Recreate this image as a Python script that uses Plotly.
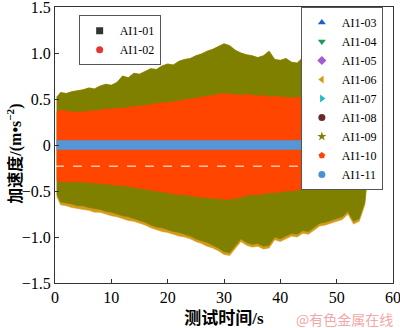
import plotly.graph_objects as go

# time axis for envelopes (s)
t = [0.3, 1, 2, 3, 4, 5, 6, 7, 8, 9, 10, 11, 12, 13, 14, 15, 16, 17, 18, 19, 20,
     21, 22, 23, 24, 25, 26, 27, 28, 29, 30, 31, 32, 33, 34, 35, 36, 37, 38, 39, 40,
     41, 42, 43, 44, 45, 46, 47, 48, 49, 50, 51, 52, 53, 54, 55, 55.5]

# AI1-09 (olive) envelope
olive_upper = [0.52, 0.57, 0.56, 0.58, 0.59, 0.60, 0.62, 0.61, 0.64, 0.66, 0.65, 0.68, 0.75, 0.73,
               0.78, 0.77, 0.80, 0.83, 0.82, 0.86, 0.88, 0.87, 0.91, 0.93, 0.94, 0.97, 0.99, 1.02,
               1.04, 1.07, 1.10, 1.08, 1.03, 1.00, 0.98, 0.97, 0.95, 0.97, 1.02, 0.93, 0.92, 0.94,
               0.90, 0.89, 0.95, 0.90, 0.88, 0.85, 0.80, 0.79, 0.76, 0.75, 0.77, 0.74, 0.76, 0.72, 0.30]
olive_lower = [-0.53, -0.62, -0.63, -0.64, -0.66, -0.66, -0.68, -0.69, -0.70, -0.72, -0.73, -0.75,
               -0.77, -0.78, -0.80, -0.82, -0.84, -0.87, -0.89, -0.90, -0.92, -0.94, -0.95, -0.97,
               -0.99, -1.02, -1.04, -1.06, -1.09, -1.12, -1.16, -1.17, -1.10, -1.02, -1.06, -1.08,
               -1.07, -1.10, -1.09, -1.00, -1.02, -0.99, -0.96, -0.97, -0.93, -0.94, -0.90, -0.85,
               -0.84, -0.82, -0.80, -0.78, -0.72, -0.83, -0.80, -0.62, -0.30]
# AI1-06 (goldenrod) lower envelope
gold_lower = [-0.56, -0.65, -0.66, -0.68, -0.69, -0.70, -0.71, -0.73, -0.73, -0.75, -0.77, -0.78,
              -0.80, -0.82, -0.83, -0.85, -0.87, -0.90, -0.92, -0.94, -0.95, -0.97, -0.99, -1.00,
              -1.02, -1.05, -1.07, -1.10, -1.12, -1.15, -1.19, -1.20, -1.13, -1.05, -1.09, -1.11,
              -1.10, -1.13, -1.12, -1.03, -1.05, -1.02, -0.99, -1.00, -0.96, -0.97, -0.93, -0.88,
              -0.87, -0.85, -0.83, -0.81, -0.75, -0.86, -0.83, -0.65, -0.32]
# AI1-10 (orange-red) envelope
orange_upper = [0.36, 0.38, 0.37, 0.36, 0.36, 0.36, 0.37, 0.37, 0.38, 0.39, 0.39, 0.40, 0.40, 0.41,
                0.42, 0.42, 0.43, 0.44, 0.45, 0.46, 0.46, 0.47, 0.48, 0.49, 0.50, 0.51, 0.52, 0.53,
                0.54, 0.55, 0.56, 0.55, 0.55, 0.54, 0.55, 0.54, 0.53, 0.54, 0.52, 0.53, 0.52, 0.52,
                0.51, 0.52, 0.50, 0.51, 0.49, 0.49, 0.50, 0.49, 0.50, 0.50, 0.49, 0.48, 0.47, 0.42, 0.20]
orange_lower = [-0.38, -0.40, -0.40, -0.40, -0.40, -0.40, -0.41, -0.41, -0.42, -0.42, -0.43, -0.44,
                -0.44, -0.45, -0.46, -0.47, -0.48, -0.49, -0.50, -0.51, -0.52, -0.53, -0.54, -0.54,
                -0.55, -0.56, -0.57, -0.57, -0.58, -0.58, -0.59, -0.59, -0.58, -0.57, -0.55, -0.54,
                -0.54, -0.53, -0.52, -0.52, -0.51, -0.50, -0.50, -0.49, -0.48, -0.47, -0.47, -0.46,
                -0.46, -0.45, -0.45, -0.44, -0.44, -0.43, -0.41, -0.38, -0.20]
# AI1-11 (blue) band half width
blue_half = 0.05
threshold = -0.23

x_ticks = [0, 10, 20, 30, 40, 50, 60]
y_ticks = [-1.5, -1.0, -0.5, 0, 0.5, 1.0, 1.5]
y_tick_text = ["\u22121.5", "\u22121.0", "\u22120.5", "0", "0.5", "1.0", "1.5"]

legend1 = ["AI1-01", "AI1-02"]
legend1_sym = ["square", "circle"]
legend1_col = ["#333333", "#E8352F"]
legend2 = ["AI1-03", "AI1-04", "AI1-05", "AI1-06", "AI1-07", "AI1-08", "AI1-09", "AI1-10", "AI1-11"]
legend2_sym = ["triangle-up", "triangle-down", "diamond", "triangle-left", "triangle-right",
               "circle", "star", "pentagon", "circle"]
legend2_col = ["#1F5FC8", "#1E9B5A", "#A25BD6", "#D49A1A", "#1FB8C8", "#6B2B2B", "#808000",
               "#FF4500", "#4A90D9"]

GOLD = "#D49A1A"
OLIVE = "#808000"
ORANGE = "#FF4500"
BLUE = "#5596D8"

fig = go.Figure()

def band(upper, lower, color):
    fig.add_trace(go.Scatter(x=t + t[::-1], y=upper + lower[::-1], fill="toself",
                             mode="lines", line=dict(width=0.6, color=color),
                             fillcolor=color, showlegend=False, hoverinfo="skip"))

band(olive_upper, gold_lower, GOLD)
band(olive_upper, olive_lower, OLIVE)
band(orange_upper, orange_lower, ORANGE)
band([blue_half] * len(t), [-blue_half] * len(t), BLUE)

fig.add_trace(go.Scatter(x=[0, t[-1]], y=[threshold, threshold], mode="lines",
                         line=dict(color="white", width=1, dash="dash"),
                         showlegend=False, hoverinfo="skip"))

for name, sym, col in zip(legend1, legend1_sym, legend1_col):
    fig.add_trace(go.Scatter(x=[None], y=[None], mode="markers", name=name,
                             marker=dict(symbol=sym, color=col, size=7), legend="legend"))
for name, sym, col in zip(legend2, legend2_sym, legend2_col):
    fig.add_trace(go.Scatter(x=[None], y=[None], mode="markers", name=name,
                             marker=dict(symbol=sym, color=col, size=7), legend="legend2"))

FONT = "Liberation Serif, Noto Sans CJK SC, serif"
axis_common = dict(showline=True, linecolor="#333333", linewidth=1, mirror=True,
                   ticks="inside", ticklen=4, tickcolor="#333333", showgrid=False,
                   zeroline=False, ticklabeloverflow="allow", automargin=False,
                   tickfont=dict(family=FONT, size=16, color="black"))

fig.update_layout(
    width=400, height=328,
    margin=dict(l=55, r=7, t=7, b=45),
    plot_bgcolor="white", paper_bgcolor="white",
    font=dict(family=FONT, color="black"),
    xaxis=dict(range=[0, 60], tickvals=x_ticks, **axis_common,
               title=dict(text="<b>测试时间/s</b>", font=dict(family=FONT, size=17), standoff=8)),
    yaxis=dict(range=[-1.5, 1.5], tickvals=y_ticks, ticktext=y_tick_text, **axis_common),
    legend=dict(x=0.07, y=0.97, xanchor="left", yanchor="top", bgcolor="white",
                bordercolor="#555555", borderwidth=1, font=dict(family=FONT, size=12),
                itemwidth=30, tracegroupgap=0),
    legend2=dict(x=0.97, y=1.0, xanchor="right", yanchor="top", bgcolor="white",
                 bordercolor="#555555", borderwidth=1, font=dict(family=FONT, size=12),
                 itemwidth=30, tracegroupgap=0),
    annotations=[
        dict(text="<b>加速度/(m•s<sup>−2</sup>)</b>", xref="paper", yref="paper",
             x=-0.12, y=0.47, xanchor="center", yanchor="middle", textangle=-90,
             showarrow=False, font=dict(family=FONT, size=16, color="black")),
        dict(text="@有色金属在线", xref="paper", yref="paper", x=1.006, y=-0.13,
             xanchor="right", yanchor="middle", showarrow=False,
             font=dict(family="Noto Sans CJK SC", size=14, color="#F2A8A8")),
    ],
)

fig.write_html("out.html")
